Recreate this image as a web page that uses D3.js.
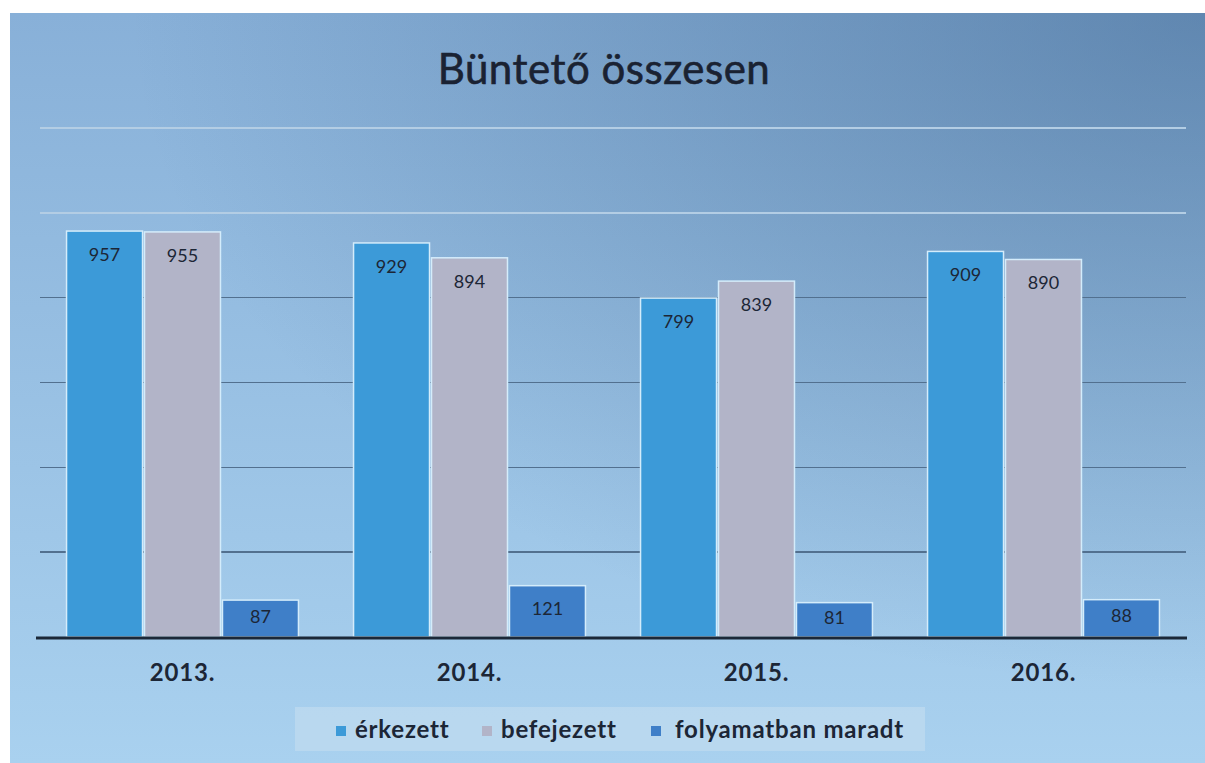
<!DOCTYPE html>
<html lang="hu">
<head>
    <meta charset="UTF-8">
    <title>Büntető összesen</title>
    <script src="https://d3js.org/d3.v7.min.js"></script>
    <style>
        body { margin: 0; background: #fff; }
        text { font-family: Lato, "Open Sans", sans-serif; }
        .grid line { shape-rendering: crispEdges; }
    </style>
</head>
<body>
    <svg width="1205" height="763"></svg>

    <script>
        // Data
        const years = ["2013.", "2014.", "2015.", "2016."];
        const seriesNames = ["érkezett", "befejezett", "folyamatban maradt"];
        const erkezett = [957, 929, 799, 909];
        const befejezett = [955, 894, 839, 890];
        const folyamatban = [87, 121, 81, 88];
        const yTicks = [200, 400, 600, 800, 1000, 1200];

        const colors = ["#3c9ad8", "#b2b4c8", "#3f7fc8"];
        const allSeries = [erkezett, befejezett, folyamatban];

        const svg = d3.select("svg");
        const defs = svg.append("defs");

        // background gradients
        const bg = defs.append("linearGradient").attr("id", "bg")
            .attr("x1", 0).attr("y1", 0).attr("x2", 0).attr("y2", 1);
        bg.append("stop").attr("offset", "0%").attr("stop-color", "#88b0d8");
        bg.append("stop").attr("offset", "100%").attr("stop-color", "#a9d1ef");

        const shade = defs.append("radialGradient").attr("id", "shade")
            .attr("cx", 1).attr("cy", 0).attr("r", 0.9);
        shade.append("stop").attr("offset", "0%").attr("stop-color", "#2f5580").attr("stop-opacity", 0.45);
        shade.append("stop").attr("offset", "100%").attr("stop-color", "#2f5580").attr("stop-opacity", 0);

        svg.append("rect").attr("x", 10).attr("y", 13).attr("width", 1195).attr("height", 750).attr("fill", "url(#bg)");
        svg.append("rect").attr("x", 10).attr("y", 13).attr("width", 1195).attr("height", 750).attr("fill", "url(#shade)");

        // title
        svg.append("text")
            .attr("x", 604).attr("y", 84)
            .attr("text-anchor", "middle")
            .attr("font-size", 42)
            .attr("letter-spacing", 0.5)
            .attr("fill", "#1a2232")
            .attr("stroke", "#1a2232")
            .attr("stroke-width", 0.6)
            .text("Büntető összesen");

        const x0 = d3.scaleBand().domain(years).range([39, 1187])
            .paddingInner(0.185).paddingOuter(0.0925);
        const x1 = d3.scaleBand().domain(seriesNames).range([0, x0.bandwidth()]);
        const y = d3.scaleLinear().domain([0, 1200]).range([637, 128]);

        // gridlines
        svg.append("g").attr("class", "grid")
            .selectAll("line").data(yTicks).join("line")
            .attr("x1", 40).attr("x2", 1186)
            .attr("y1", d => y(d)).attr("y2", d => y(d))
            .attr("stroke", d => d >= 1000 ? "#b3cde4" : "#52708f")
            .attr("stroke-width", 1.5);

        // bars
        const groups = svg.append("g").selectAll("g").data(years).join("g")
            .attr("transform", d => `translate(${x0(d)},0)`);

        groups.each(function(yr, i) {
            const g = d3.select(this);
            const vals = allSeries.map((s, k) => ({ name: seriesNames[k], value: s[i], color: colors[k] }));
            g.selectAll("rect").data(vals).join("rect")
                .attr("x", d => x1(d.name) + 1)
                .attr("y", d => y(d.value))
                .attr("width", x1.bandwidth() - 2)
                .attr("height", d => y(0) - y(d.value))
                .attr("fill", d => d.color)
                .attr("stroke", "#d4ecfb")
                .attr("stroke-width", 1.5);
            g.selectAll("text").data(vals).join("text")
                .attr("x", d => x1(d.name) + x1.bandwidth() / 2)
                .attr("y", d => {
                    const h = y(0) - y(d.value);
                    return y(d.value) + Math.min(24, h / 2 - 2) + 6;
                })
                .attr("text-anchor", "middle")
                .attr("font-size", 18)
                .attr("fill", "#1c2636")
                .text(d => d.value);
        });

        // baseline
        svg.append("line")
            .attr("x1", 36).attr("x2", 1187)
            .attr("y1", y(0) + 1).attr("y2", y(0) + 1)
            .attr("stroke", "#1b2838").attr("stroke-width", 3);

        // category axis labels
        svg.append("g").selectAll("text").data(years).join("text")
            .attr("x", d => x0(d) + x0.bandwidth() / 2)
            .attr("y", 681)
            .attr("text-anchor", "middle")
            .attr("font-size", 24)
            .attr("letter-spacing", 0.8)
            .attr("font-weight", "bold")
            .attr("fill", "#1c2636")
            .text(d => d);

        // legend
        const legend = svg.append("g");
        legend.append("rect")
            .attr("x", 295).attr("y", 707).attr("width", 630).attr("height", 44)
            .attr("fill", "#c0dcf0").attr("opacity", 0.7);
        const legX = [336, 482, 651];
        const items = legend.selectAll("g").data(seriesNames).join("g")
            .attr("transform", (d, i) => `translate(${legX[i]},0)`);
        items.append("rect")
            .attr("x", 0).attr("y", 726).attr("width", 10).attr("height", 10)
            .attr("fill", (d, i) => colors[i]);
        items.append("text")
            .attr("x", (d, i) => i === 2 ? 24 : 19).attr("y", 738)
            .attr("font-size", 24)
            .attr("letter-spacing", 0.8)
            .attr("font-weight", "bold")
            .attr("fill", "#1c2636")
            .text(d => d);
    </script>
</body>
</html>
